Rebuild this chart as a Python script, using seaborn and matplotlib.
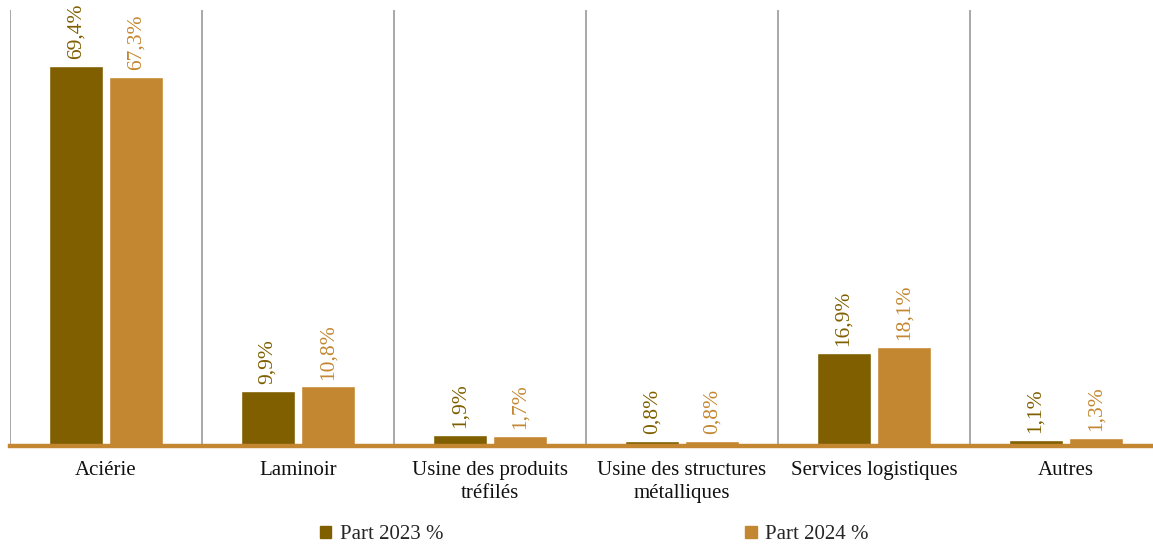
import seaborn as sns
import numpy as np
import pandas as pd
import matplotlib.pyplot as plt
from matplotlib.patches import Patch

categories = ["Aciérie", "Laminoir", "Usine des produits\ntréfilés",
              "Usine des structures\nmétalliques", "Services logistiques", "Autres"]
part_2023 = [69.4, 9.9, 1.9, 0.8, 16.9, 1.1]
part_2024 = [67.3, 10.8, 1.7, 0.8, 18.1, 1.3]
series = ["Part 2023 %", "Part 2024 %"]
colors = ["#7f5f00", "#c48731"]

df = pd.DataFrame({
    "cat": categories * 2,
    "val": part_2023 + part_2024,
    "serie": [series[0]] * 6 + [series[1]] * 6,
})

sns.set_style("white")
plt.rcParams['font.family'] = ['Liberation Serif', 'DejaVu Serif']

fig = plt.figure(figsize=(11.53, 5.44), dpi=100)
ax = fig.add_axes([0.0087, 0.181, 0.999, 0.8006])

sns.barplot(data=df, x="cat", y="val", hue="serie", palette=colors,
            width=0.63, gap=0.11, ax=ax, legend=False, saturation=1)

ax.set_ylim(0, 79.6)
ax.set_xlim(-0.5, 5.5)
ax.set_yticks([])
ax.set_xlabel("")
ax.set_ylabel("")

# separators between categories
ax.set_xticks(np.arange(-0.5, 6, 1), minor=True)
ax.grid(axis='x', which='minor', color='#9a9a9a', lw=1.2)
ax.grid(axis='x', which='major', visible=False)
ax.tick_params(axis='x', which='both', length=0, pad=11, labelsize=15, colors='#111111')
for t in ax.get_xticklabels():
    t.set_linespacing(1.3)

for s in ["top", "left", "right"]:
    ax.spines[s].set_visible(False)
ax.spines["bottom"].set_color(colors[1])
ax.spines["bottom"].set_linewidth(3.2)
ax.spines["bottom"].set_zorder(5)

for cont, col in zip(ax.containers, colors):
    labels = [f"{v:.1f}%".replace('.', ',') for v in cont.datavalues]
    ax.bar_label(cont, labels=labels, rotation=90, padding=5, color=col, fontsize=15.5)

handles = [Patch(color=c, label=s) for c, s in zip(colors, series)]
fig.legend(handles=handles, loc='center', bbox_to_anchor=(0.5155, 0.017), ncol=2,
           frameon=False, handlelength=0.55, handleheight=0.55, handletextpad=0.4,
           columnspacing=14.5, fontsize=15)

fig.savefig("out.png", dpi=100)
